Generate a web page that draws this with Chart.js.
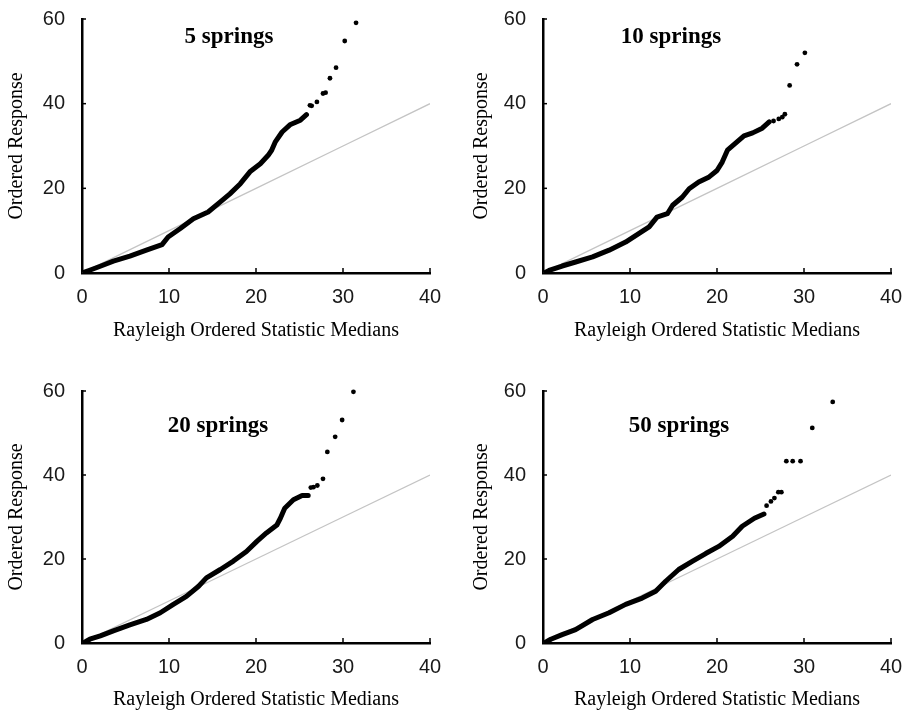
<!DOCTYPE html>
<html>
<head>
<meta charset="utf-8">
<script src="https://cdn.jsdelivr.net/npm/chart.js@4.4.1/dist/chart.umd.min.js"></script>
<style>
  html, body { margin: 0; padding: 0; background: #fff; }
  #wrap { position: relative; width: 902px; height: 712px; overflow: hidden; }
  .panel { position: absolute; }
</style>
</head>
<body>
<div id="wrap">
  <div class="panel" style="left:0;top:0;width:451px;height:350px"><canvas id="c5"></canvas></div>
  <div class="panel" style="left:451px;top:0;width:451px;height:350px"><canvas id="c10"></canvas></div>
  <div class="panel" style="left:0;top:350px;width:451px;height:362px"><canvas id="c20"></canvas></div>
  <div class="panel" style="left:451px;top:350px;width:451px;height:362px"><canvas id="c50"></canvas></div>
</div>
<script>
// reference line (ordered response = median)
const refX = [0, 10, 20, 30, 40];
const refY = [0, 10, 20, 30, 40];

// 5 springs
const s5X = [0.3, 0.8, 2.1, 3.6, 5.5, 7.4, 9.2, 9.9, 11.3, 12.8, 14.5, 15.9, 17.0, 18.2, 19.3, 20.5, 21.4, 21.8, 22.2, 23.0, 23.9, 25.1, 25.8];
const s5Y = [0.2, 0.6, 1.6, 2.8, 4.0, 5.4, 6.7, 8.5, 10.5, 12.8, 14.4, 16.8, 18.7, 21.1, 23.9, 25.8, 27.8, 29.0, 30.9, 33.3, 35.0, 36.1, 37.4];
const s5TailX = [26.2, 26.4, 27.0, 27.7, 28.0, 28.5, 29.2, 30.2, 31.5];
const s5TailY = [39.6, 39.5, 40.4, 42.4, 42.6, 46.0, 48.5, 54.8, 59.1];

// 10 springs
const s10X = [0.3, 0.7, 2.2, 3.75, 5.7, 7.6, 9.5, 11.0, 12.2, 13.1, 14.3, 14.9, 16.0, 16.8, 17.9, 19.1, 20.0, 20.6, 21.2, 22.1, 23.1, 24.1, 25.2, 26.0];
const s10Y = [0.2, 0.6, 1.65, 2.6, 3.8, 5.4, 7.3, 9.3, 10.9, 13.2, 14.0, 16.0, 17.9, 19.9, 21.5, 22.7, 24.2, 26.2, 29.0, 30.6, 32.4, 33.1, 34.2, 35.7];
const s10TailX = [26.5, 27.1, 27.5, 27.8, 28.35, 29.2, 30.1];
const s10TailY = [35.9, 36.4, 36.8, 37.5, 44.3, 49.3, 52.0];

// 20 springs
const s20X = [0.3, 0.9, 2.1, 3.6, 5.5, 7.4, 9.0, 10.5, 12.0, 13.4, 14.3, 15.9, 17.4, 18.9, 20.1, 21.2, 22.4, 22.8, 23.3, 24.3, 25.3, 26.0];
const s20Y = [0.2, 0.9, 1.7, 2.9, 4.3, 5.6, 7.2, 9.2, 11.1, 13.5, 15.5, 17.5, 19.5, 21.8, 24.2, 26.2, 28.1, 29.7, 32.1, 34.1, 35.1, 35.1];
const s20TailX = [26.3, 26.6, 27.05, 27.7, 28.2, 29.1, 29.9, 31.2];
const s20TailY = [37.0, 37.1, 37.5, 39.1, 45.5, 49.1, 53.1, 59.8];

// 50 springs
const s50X = [0.3, 0.9, 2.2, 3.75, 5.7, 7.6, 9.5, 11.4, 12.95, 14.1, 15.6, 17.2, 18.7, 20.2, 21.8, 22.9, 24.3, 25.4];
const s50Y = [0.2, 0.9, 2.0, 3.2, 5.6, 7.2, 9.2, 10.7, 12.3, 14.7, 17.5, 19.5, 21.3, 23.0, 25.4, 27.8, 29.7, 30.7];
const s50TailX = [25.7, 26.2, 26.6, 27.05, 27.4, 27.97, 28.7, 29.6, 30.95, 33.3];
const s50TailY = [32.7, 33.7, 34.5, 35.9, 35.9, 43.3, 43.3, 43.3, 51.2, 57.4];

const xTicks = [0, 10, 20, 30, 40];
const yTicks = [0, 20, 40, 60];

function pts(xs, ys) {
    return xs.map((x, i) => ({ x: x, y: ys[i] }));
}

// small inward tick marks + the panel label inside the plot
const panelDecor = {
    id: "panelDecor",
    afterDraw(chart, args, opts) {
        const ctx = chart.ctx;
        const xs = chart.scales.x, ys = chart.scales.y;
        const a = chart.chartArea;
        ctx.save();
        ctx.strokeStyle = "#000";
        ctx.lineWidth = 1.5;
        xTicks.slice(1).forEach(v => {
            const px = xs.getPixelForValue(v);
            ctx.beginPath();
            ctx.moveTo(px, a.bottom);
            ctx.lineTo(px, a.bottom - 5);
            ctx.stroke();
        });
        yTicks.slice(1).forEach(v => {
            const py = ys.getPixelForValue(v);
            ctx.beginPath();
            ctx.moveTo(a.left, py);
            ctx.lineTo(a.left + 4, py);
            ctx.stroke();
        });
        ctx.fillStyle = "#000";
        ctx.font = "bold 23px 'Liberation Serif', 'Times New Roman', serif";
        ctx.textAlign = "center";
        ctx.textBaseline = "alphabetic";
        ctx.fillText(opts.text, opts.cx, opts.base);
        ctx.restore();
    }
};

function makePanel(id, w, h, area, titlePadY, xTitlePad, label, labelPos, dense, tail) {
    new Chart(document.getElementById(id), {
        type: "scatter",
        data: {
            datasets: [
                {
                    data: pts(refX, refY),
                    showLine: true,
                    borderColor: "#c4c4c4",
                    borderWidth: 1.3,
                    pointRadius: 0,
                    order: 3
                },
                {
                    data: dense,
                    showLine: true,
                    borderColor: "#000",
                    borderWidth: 5,
                    borderCapStyle: "round",
                    borderJoinStyle: "round",
                    pointRadius: 0,
                    order: 2
                },
                {
                    data: tail,
                    backgroundColor: "#000",
                    borderColor: "#000",
                    pointRadius: 2.4,
                    borderWidth: 0,
                    clip: false,
                    order: 1
                }
            ]
        },
        options: {
            responsive: true,
            maintainAspectRatio: false,
            animation: false,
            layout: {
                padding: { left: 0, top: area.top, right: w - area.right, bottom: 0 }
            },
            scales: {
                x: {
                    type: "linear",
                    min: 0,
                    max: 40,
                    afterBuildTicks: s => { s.ticks = xTicks.map(v => ({ value: v })); },
                    afterFit: s => { s.height = h - area.bottom; s.paddingLeft = 0; s.paddingRight = 0; },
                    grid: { display: true, drawOnChartArea: false, drawTicks: false },
                    border: { display: true, color: "#000", width: 2.5 },
                    ticks: {
                        padding: 12,
                        color: "#1a1a1a",
                        font: { family: "'Liberation Sans', Arial, sans-serif", size: 20 }
                    },
                    title: {
                        display: true,
                        text: "Rayleigh Ordered Statistic Medians",
                        color: "#000",
                        padding: { top: xTitlePad, bottom: xTitlePad },
                        font: { family: "'Liberation Serif', 'Times New Roman', serif", size: 20, lineHeight: 1 }
                    }
                },
                y: {
                    type: "linear",
                    min: 0,
                    max: 60,
                    afterBuildTicks: s => { s.ticks = yTicks.map(v => ({ value: v })); },
                    afterFit: s => { s.width = area.left; s.paddingTop = 0; s.paddingBottom = 0; },
                    grid: { display: true, drawOnChartArea: false, drawTicks: false },
                    border: { display: true, color: "#000", width: 2.5 },
                    ticks: {
                        padding: 17,
                        color: "#1a1a1a",
                        font: { family: "'Liberation Sans', Arial, sans-serif", size: 20 }
                    },
                    title: {
                        display: true,
                        text: "Ordered Response",
                        color: "#000",
                        padding: { top: titlePadY, bottom: titlePadY },
                        font: { family: "'Liberation Serif', 'Times New Roman', serif", size: 20, lineHeight: 1 }
                    }
                }
            },
            plugins: {
                legend: { display: false },
                tooltip: { enabled: false },
                panelDecor: { text: label, cx: labelPos[0], base: labelPos[1] }
            }
        },
        plugins: [panelDecor]
    });
}

makePanel("c5", 451, 350, { left: 82, right: 430, top: 19, bottom: 273 }, 7, 9,
    "5 springs", [229, 43], pts(s5X, s5Y), pts(s5TailX, s5TailY));
makePanel("c10", 451, 350, { left: 92, right: 440, top: 19, bottom: 273 }, 21, 9,
    "10 springs", [220, 43], pts(s10X, s10Y), pts(s10TailX, s10TailY));
makePanel("c20", 451, 362, { left: 82, right: 430, top: 41, bottom: 293 }, 7, 2,
    "20 springs", [218, 82], pts(s20X, s20Y), pts(s20TailX, s20TailY));
makePanel("c50", 451, 362, { left: 92, right: 440, top: 41, bottom: 293 }, 21, 2,
    "50 springs", [228, 82], pts(s50X, s50Y), pts(s50TailX, s50TailY));
</script>
</body>
</html>
